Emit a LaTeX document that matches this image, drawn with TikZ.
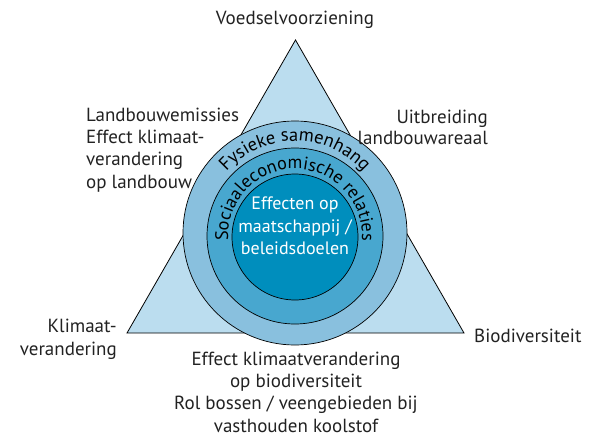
\documentclass[tikz,border=0pt]{standalone}
\usepackage{fontspec}
\setmainfont{PT Sans}
\usetikzlibrary{decorations.text}

\definecolor{vlak}{HTML}{BBDDEF}
\definecolor{ringa}{HTML}{89C0DE}
\definecolor{ringb}{HTML}{48A7CF}
\definecolor{ringc}{HTML}{008EBD}
\definecolor{tekst}{HTML}{222222}

\begin{document}
\begin{tikzpicture}[x=1pt,y=1pt,font=\fontsize{19}{22.3}\selectfont,text=tekst]
  \useasboundingbox (0,0) rectangle (593,437);

  % hoekpunten van de driehoek
  \coordinate (top)    at (295.5,397);
  \coordinate (links)  at (127,104);
  \coordinate (rechts) at (464,104);
  \draw[fill=vlak, line width=0.8pt, line join=miter] (top) -- (links) -- (rechts) -- cycle;

  \begin{scope}[every node/.style={circle, draw, line width=0.7pt, inner sep=0pt}]
    \node[fill=ringa, minimum size=224] (buiten) at (295,204) {};
    \node[fill=ringb, minimum size=176] (midden) at (295,201) {};
    \node[fill=ringc, minimum size=126] (binnen) at (295,200) {};
  \end{scope}

  % tekst langs de ringen
  \path[decorate, decoration={text along path, text align=center,
      text={|\fontsize{18.5}{18.5}\selectfont|Fysieke samenhang}}]
    ([shift={(178:92)}]buiten.center) arc (178:2:92);
  \path[decorate, decoration={text along path, text align=center,
      text={|\fontsize{18.2}{18.2}\selectfont|Sociaaleconomische relaties}}]
    ([shift={(188:67)}]midden.center) arc (188:-8:67);

  \node[text=white, align=center, font=\fontsize{18}{22.3}\selectfont] (kern) at (295,211)
    {Effecten op\\maatschappij /\\beleidsdoelen};

  \begin{scope}[every node/.style={inner sep=0pt}]
    \node (1) at (295,417) {Voedselvoorziening};
    \node[anchor=west, align=left] (2) at (86,287)
      {Landbouwemissies\\Effect klimaat-\\verandering\\op landbouw};
    \node[anchor=east, align=right, font=\fontsize{19}{21}\selectfont] (3) at (488,310)
      {Uitbreiding\\landbouwareaal};
    \node[anchor=east, align=right, font=\fontsize{19}{23.3}\selectfont] (4) at (117,97.5)
      {Klimaat-\\verandering};
    \node[anchor=base west] (5) at (474,95) {Biodiversiteit};
    \node[align=center, font=\fontsize{19}{22.3}\selectfont] (6) at (296,45)
      {Effect klimaatverandering\\op biodiversiteit\\Rol bossen / veengebieden bij\\vasthouden koolstof};
  \end{scope}

\end{tikzpicture}
\end{document}
